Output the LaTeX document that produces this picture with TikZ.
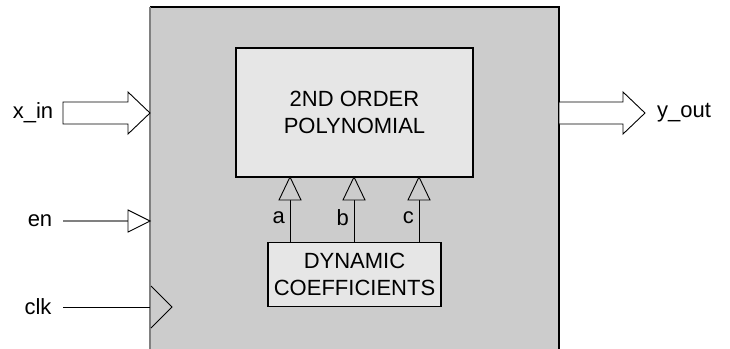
\documentclass[tikz,border=0pt]{standalone}
\usepackage{fontspec}
\setmainfont{Liberation Sans}
\definecolor{boxgray}{HTML}{CCCCCC}
\definecolor{lightbox}{HTML}{E6E6E6}
\definecolor{edgegray}{HTML}{808080}
\begin{document}
\begin{tikzpicture}[x=1pt,y=-1pt,
  font=\fontsize{22}{27}\selectfont,
  block/.style={draw=black, line width=1.3pt, fill=lightbox, align=center, inner sep=0pt},
  bus/.style={draw=black, line width=0.9pt, fill=white},
  hollow/.style={draw=black, line width=0.9pt, fill=boxgray},
  lbl/.style={inner sep=0pt}]
\useasboundingbox (0,0) rectangle (730,348);
\begin{scope}
\clip (0,0) rectangle (730,348);
% main module
\fill[boxgray] (150,7) rectangle (559,360);
\draw[black, line width=1.8pt] (150,7) -- (559,7) -- (559,360);
\draw[edgegray, line width=1.8pt] (150,7) -- (150,360);
\end{scope}
% inner blocks
\node[block, minimum width=237pt, minimum height=129pt] (poly) at (354.5,112.5) {2ND ORDER\\POLYNOMIAL};
\node[block, minimum width=173pt, minimum height=64pt] (coef) at (354.5,274.5) {DYNAMIC\\COEFFICIENTS};
% coefficient connectors
\foreach \xx/\nm in {290/a,354/b,419/c}{
  \coordinate (s\nm) at (\xx,242);
  \coordinate (t\nm) at (\xx,200);
  \draw[line width=0.9pt] (s\nm) -- (t\nm);
  \draw[hollow] (\xx-11,200) -- (\xx,177) -- (\xx+11,200) -- cycle;
  \node[lbl, anchor=east] (l\nm) at (\xx-5,218) {\nm};
}
% x_in bus arrow
\node[lbl] (xin) at (33,113) {x\_in};
\draw[bus] (63,102) -- (128,102) -- (128,92) -- (150,113) -- (128,134) -- (128,124) -- (63,124) -- cycle;
% y_out bus arrow
\node[lbl, anchor=west] (yout) at (657,113) {y\_out};
\draw[bus] (559,102) -- (623,102) -- (623,92) -- (645,113) -- (623,134) -- (623,124) -- (559,124) -- cycle;
% en
\node[lbl] (en) at (40,221) {en};
\coordinate (enl) at (63,221);
\coordinate (enr) at (128,221);
\draw[edgegray, line width=1.2pt] (enl) -- (enr);
\draw[bus] (128,210) -- (150,221) -- (128,232) -- cycle;
% clk
\node[lbl] (clk) at (38,307) {clk};
\coordinate (clkl) at (63,307);
\coordinate (clkr) at (150,307);
\draw[line width=0.9pt] (clkl) -- (clkr);
\draw[line width=0.9pt] (151,286) -- (172,307) -- (151,328);
\end{tikzpicture}
\end{document}
